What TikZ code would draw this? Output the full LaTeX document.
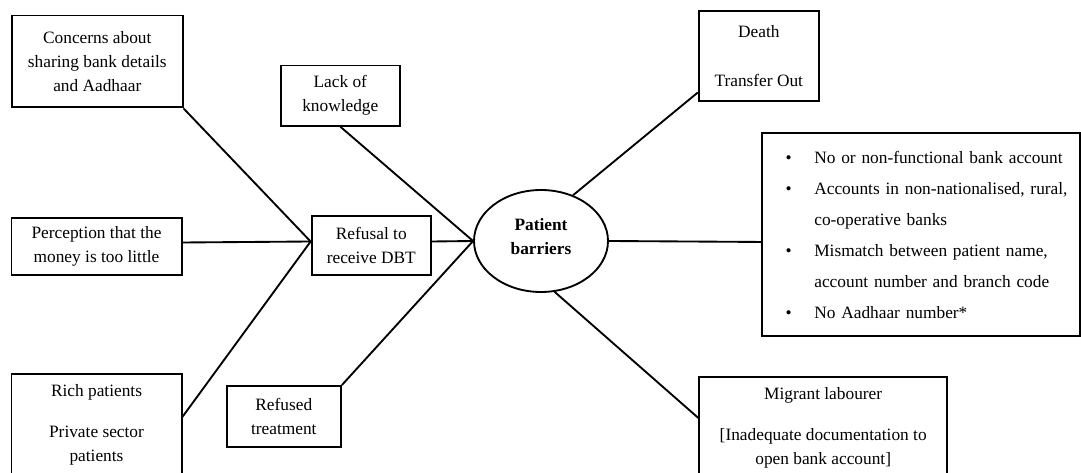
\documentclass[tikz,border=0pt]{standalone}
\usepackage{fontspec}
\setmainfont{Liberation Serif}
\usetikzlibrary{shapes.geometric}

\begin{document}
\begin{tikzpicture}[x=0.75pt,y=-0.75pt,
box/.style={draw,line width=1.4pt,align=center,inner sep=0pt,font=\fontsize{13}{18}\selectfont},
link/.style={line width=1.4pt}]

\useasboundingbox (0,0) rectangle (1081,473);
\clip (0,0) rectangle (1081,473);


\node [box,minimum width=127.9pt,minimum height=68.9pt] (1) at (97.3,61.5) {Concerns about\\sharing bank details\\and Aadhaar};
\node [box,minimum width=89.6pt,minimum height=45.2pt] (2) at (340.3,95.6) {Lack of\\knowledge};
\node [box,minimum width=127.6pt,minimum height=42.8pt] (3) at (96.5,246.5) {Perception that the\\money is too little};
\node [box,minimum width=89.6pt,minimum height=44.3pt] (4) at (371.3,245.5) {Refusal to\\receive DBT};
\node [box,ellipse,minimum width=100.5pt,minimum height=76.5pt,font=\bfseries\fontsize{13}{18}\selectfont] (5) at (541,241) {Patient\\barriers\\[-10.5pt]\mbox{}};
\node [box,minimum width=85.8pt,minimum height=45.8pt] (6) at (283.8,416.5) {Refused\\treatment};
\node [box,minimum width=127.6pt,minimum height=76.8pt] (7) at (96.5,424.8) {Rich patients\\[12.75pt]Private sector\\patients};

\node [box,minimum width=90.1pt,minimum height=67.1pt] (8) at (758.8,56.1) {Death\\[18.75pt]Transfer Out};
\node [box,minimum width=238.5pt,minimum height=152.3pt,align=left,text width=230pt,inner xsep=4pt,font=\fontsize{13}{23.25}\selectfont] (9) at (921,234.5)
{\makebox[35pt][l]{\hspace{13.5pt}\textbullet}No or non-functional bank account\\
\makebox[35pt][l]{\hspace{13.5pt}\textbullet}Accounts in non-nationalised, rural,\\
\hspace*{35pt}co-operative banks\\
\makebox[35pt][l]{\hspace{13.5pt}\textbullet}Mismatch between patient name,\\
\hspace*{35pt}account number and branch code\\
\makebox[35pt][l]{\hspace{13.5pt}\textbullet}No Aadhaar number*};
\node [box,minimum width=185.7pt,minimum height=77.1pt] (10) at (823.2,428.1) {Migrant labourer\\[13pt]{[}Inadequate documentation to\\open bank account]};


\draw[link](1.south east)--([yshift=3pt]4.west);
\draw[link]([yshift=3pt]3.east)--([yshift=3pt]4.west);
\draw[link]([yshift=6pt]7.east)--([yshift=3pt]4.west);

\draw[link]([yshift=3pt]4.east)--(5.west);
\draw[link](2.south)--(5.west);
\draw[link](6.north east)--(5.west);

\draw[link](5.55)--([yshift=-27.3pt]8.west);
\draw[link](5.east)--([yshift=-5.6pt]9.west);
\draw[link](5.-75)--([yshift=7.5pt]10.west);
\end{tikzpicture}
\end{document}
